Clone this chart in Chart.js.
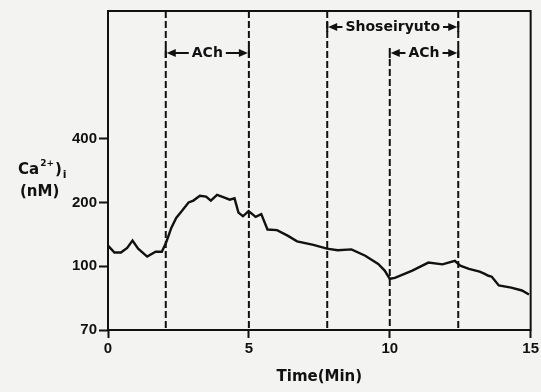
<!DOCTYPE html>
<html>
<head>
<meta charset="utf-8">
<script src="https://cdn.jsdelivr.net/npm/chart.js@4/dist/chart.umd.min.js"></script>
<style>
    html, body { margin: 0; padding: 0; background: #f3f3f1; }
    #wrap { width: 541px; height: 392px; position: relative; }
</style>
</head>
<body>
<div id="wrap"><canvas id="c"></canvas></div>
<script>
// Intracellular Ca trace (time in min, Ca in nM).
const TIME_MIN = [0, 0.23, 0.46, 0.68, 0.87, 1.07, 1.39, 1.69, 1.91, 2.06, 2.25, 2.42, 2.62, 2.86,
    3.03, 3.26, 3.48, 3.65, 3.87, 4.09, 4.32, 4.49, 4.63, 4.79, 4.99, 5.24, 5.44, 5.66, 6.0, 6.39,
    6.71, 7.29, 7.77, 8.15, 8.64, 9.13, 9.59, 9.82, 10.0, 10.18, 10.8, 11.37, 11.87, 12.31, 12.5,
    12.81, 13.19, 13.37, 13.5, 13.62, 13.87, 14.31, 14.69, 14.94];
const CA_NM = [125, 116, 116, 122, 132, 121, 111, 117, 117, 129, 152, 169, 182, 200,
    204, 215, 213, 204, 217, 212, 206, 209, 179, 172, 182, 171, 176, 149, 148, 139,
    131, 126, 121, 119, 120, 112, 102.5, 97.6, 93.2, 93.7, 97.6, 104, 102, 106, 100.6,
    98.5, 97, 95.8, 94.8, 94.3, 89.8, 88.7, 87.3, 85.4];

const X_TICKS = [0, 5, 10, 15];
const Y_TICKS = [70, 100, 200, 400];   // equally spaced on the original axis
const Y_STEPS_ABOVE = 2;              // empty tick steps above 400

// Treatment markers (min) and the bracket labels drawn between them.
const MARK_TIMES = [2.05, 5.0, 7.78, 10.0, 12.43];
const SPANS = [
    { from: 2.05, to: 5.0, label: 'ACh', row: 1 },
    { from: 7.78, to: 12.43, label: 'Shoseiryuto', row: 0 },
    { from: 10.0, to: 12.43, label: 'ACh', row: 1 },
];

const INK = '#111';
const TICK_FONT = { family: 'Liberation Sans', size: 15, weight: 'bold' };

// Ticks sit one unit apart; values between them are interpolated on a log scale.
function yUnit(v) {
    const t = Y_TICKS;
    for (let i = 0; i < t.length - 1; i++) {
        if (v <= t[i + 1]) return i + Math.log(v / t[i]) / Math.log(t[i + 1] / t[i]);
    }
    const n = t.length - 1;
    return n + Math.log(v / t[n]) / Math.log(t[n] / t[n - 1]);
}
const Y_UNITS = Y_TICKS.length - 1 + Y_STEPS_ABOVE;

class StepScale extends Chart.LinearScale {
    determineDataLimits() {
        this.min = Y_TICKS[0];
        this.max = Y_TICKS[Y_TICKS.length - 1];
    }
    buildTicks() {
        return Y_TICKS.map(v => ({ value: v }));
    }
    getPixelForValue(v) {
        if (v === null || v === undefined) return NaN;
        return this.getPixelForDecimal(yUnit(v) / Y_UNITS);
    }
    getValueForPixel(px) {
        const u = this.getDecimalForPixel(px) * Y_UNITS;
        const i = Math.min(Math.floor(u), Y_TICKS.length - 2);
        const a = Y_TICKS[i], b = Y_TICKS[i + 1];
        return a * Math.pow(b / a, u - i);
    }
}
StepScale.id = 'step';
StepScale.defaults = Chart.LinearScale.defaults;
Chart.register(StepScale);

function arrowHead(ctx, x, y, dir) {
    ctx.beginPath();
    ctx.moveTo(x, y);
    ctx.lineTo(x - dir * 9, y - 4);
    ctx.lineTo(x - dir * 9, y + 4);
    ctx.closePath();
    ctx.fill();
}

const markersPlugin = {
    id: 'markers',
    afterDatasetsDraw(chart) {
        const { ctx, chartArea: a, scales: { x } } = chart;
        const rowY = [a.top + 16, a.top + 42];
        ctx.save();
        ctx.strokeStyle = INK;
        ctx.fillStyle = INK;

        // dashed event lines; the 10 min line starts under the ACh bracket
        ctx.lineWidth = 2;
        ctx.setLineDash([7, 3]);
        MARK_TIMES.forEach(t => {
            const px = x.getPixelForValue(t);
            const late = SPANS.some(s => s.from === t && s.row === 1 && t > 7);
            ctx.beginPath();
            ctx.moveTo(px, late ? rowY[1] + 6 : a.top);
            ctx.lineTo(px, a.bottom);
            ctx.stroke();
        });
        ctx.setLineDash([]);

        ctx.font = 'bold 14px "DejaVu Sans"';
        ctx.textAlign = 'center';
        ctx.textBaseline = 'middle';
        SPANS.forEach(s => {
            const x0 = x.getPixelForValue(s.from), x1 = x.getPixelForValue(s.to);
            const y = rowY[s.row];
            const mid = (x0 + x1) / 2;
            const half = ctx.measureText(s.label).width / 2 + 3;
            ctx.lineWidth = 2;
            ctx.beginPath();
            ctx.moveTo(x0, y - 5); ctx.lineTo(x0, y + 5);
            ctx.moveTo(x1, y - 5); ctx.lineTo(x1, y + 5);
            ctx.moveTo(x0 + 6, y); ctx.lineTo(mid - half, y);
            ctx.moveTo(mid + half, y); ctx.lineTo(x1 - 6, y);
            ctx.stroke();
            arrowHead(ctx, x0 + 1, y, -1);
            arrowHead(ctx, x1 - 1, y, 1);
            ctx.fillText(s.label, mid, y);
        });

        // frame
        ctx.lineWidth = 2;
        ctx.strokeRect(a.left, a.top, a.right - a.left, a.bottom - a.top);

        // y title: Ca2+)i / (nM)
        ctx.textAlign = 'left';
        ctx.textBaseline = 'alphabetic';
        ctx.font = 'bold 15px "DejaVu Sans"';
        let cx = 18;
        ctx.fillText('Ca', cx, 174);
        cx += ctx.measureText('Ca').width + 1;
        ctx.font = 'bold 9px "DejaVu Sans"';
        ctx.fillText('2+', cx, 166);
        cx += ctx.measureText('2+').width + 1;
        ctx.font = 'bold 15px "DejaVu Sans"';
        ctx.fillText(')', cx, 174);
        cx += ctx.measureText(')').width + 1;
        ctx.font = 'bold 11px "DejaVu Sans"';
        ctx.fillText('i', cx, 178);
        ctx.font = 'bold 15px "DejaVu Sans"';
        ctx.fillText('(nM)', 20, 196);
        ctx.restore();
    },
};

new Chart(document.getElementById('c'), {
    type: 'line',
    data: {
        datasets: [{
            data: TIME_MIN.map((t, i) => ({ x: t, y: CA_NM[i] })),
            borderColor: INK,
            borderWidth: 2.4,
            pointRadius: 0,
            tension: 0,
            fill: false,
        }],
    },
    options: {
        responsive: true,
        maintainAspectRatio: false,
        animation: false,
        layout: { padding: { top: 9, right: 6, left: 0, bottom: 0 } },
        plugins: { legend: { display: false }, tooltip: { enabled: false } },
        scales: {
            x: {
                type: 'linear',
                min: 0,
                max: 15,
                afterBuildTicks: s => { s.ticks = X_TICKS.map(v => ({ value: v })); },
                afterFit: s => { s.height = 62; },
                border: { display: false },
                grid: { drawOnChartArea: false, tickLength: 8, tickWidth: 2, tickColor: INK },
                ticks: { color: INK, font: TICK_FONT, padding: 2, maxRotation: 0 },
                title: {
                    display: true,
                    text: 'Time(Min)',
                    color: INK,
                    font: { family: 'DejaVu Sans', size: 15, weight: 'bold' },
                    padding: { top: 0, bottom: 6 },
                },
            },
            y: {
                type: 'step',
                afterFit: s => { s.width = 108; },
                border: { display: false },
                grid: { drawOnChartArea: false, tickLength: 9, tickWidth: 2, tickColor: INK },
                ticks: { color: INK, font: TICK_FONT, padding: 2, callback: v => String(v) },
            },
        },
    },
    plugins: [markersPlugin],
});
</script>
</body>
</html>
